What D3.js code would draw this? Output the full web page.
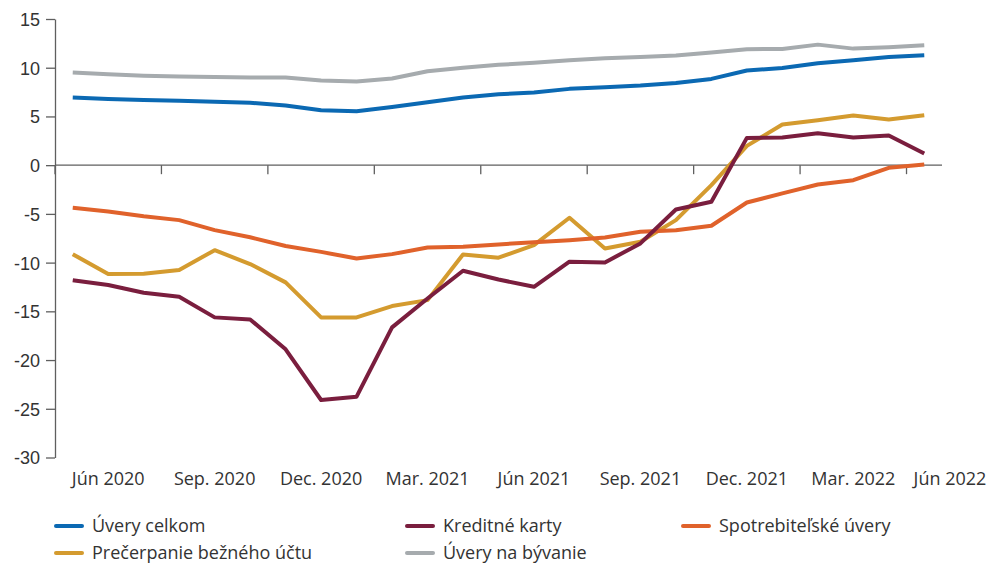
<!DOCTYPE html>
<html>
<head>
<meta charset="utf-8">
<script src="https://cdn.jsdelivr.net/npm/d3@7"></script>
<style>
  body { margin: 0; background: #fff; }
  svg { display: block; font-family: "Open Sans", sans-serif; }
  .axis text { fill: #333; font-size: 18px; }
  .axis path, .axis line { stroke: #5f5f5f; stroke-width: 1.3; }
</style>
</head>
<body>
<div id="chart"></div>
<script>
// months Jún 2020 .. Jún 2022
const months = ["Jún 2020","Júl 2020","Aug. 2020","Sep. 2020","Okt. 2020","Nov. 2020","Dec. 2020","Jan. 2021","Feb. 2021",
  "Mar. 2021","Apr. 2021","Máj 2021","Jún 2021","Júl 2021","Aug. 2021","Sep. 2021","Okt. 2021","Nov. 2021",
  "Dec. 2021","Jan. 2022","Feb. 2022","Mar. 2022","Apr. 2022","Máj 2022","Jún 2022"];

const uveryCelkom = [6.94, 6.8, 6.7, 6.6, 6.5, 6.4, 6.12, 5.64, 5.54, 5.98, 6.46, 6.94, 7.28, 7.45, 7.83, 8.0,
  8.17, 8.44, 8.85, 9.71, 9.98, 10.46, 10.77, 11.1, 11.28];
const kreditneKarty = [-11.8, -12.3, -13.1, -13.5, -15.62, -15.83, -18.9, -24.1, -23.76, -16.65, -13.68, -10.84,
  -11.73, -12.48, -9.91, -9.98, -8.03, -4.55, -3.76, 2.8, 2.85, 3.28, 2.84, 3.04, 1.2];
const spotrebitelske = [-4.38, -4.75, -5.25, -5.64, -6.67, -7.4, -8.3, -8.9, -9.57, -9.13, -8.44, -8.38, -8.14,
  -7.9, -7.7, -7.42, -6.84, -6.67, -6.22, -3.83, -2.9, -1.98, -1.54, -0.27, 0.07];
const precerpanie = [-9.13, -11.18, -11.15, -10.77, -8.72, -10.15, -12.03, -15.62, -15.62, -14.46, -13.85, -9.16,
  -9.5, -8.2, -5.4, -8.55, -7.86, -5.64, -2.05, 1.98, 4.17, 4.6, 5.1, 4.68, 5.13];
const uveryByvanie = [9.5, 9.32, 9.17, 9.1, 9.05, 9.0, 9.0, 8.69, 8.58, 8.9, 9.64, 10.0, 10.3, 10.5, 10.77, 10.97,
  11.1, 11.25, 11.55, 11.9, 11.93, 12.37, 11.96, 12.1, 12.3];

const yTicks = [-30, -25, -20, -15, -10, -5, 0, 5, 10, 15];

const series = [
  { name: "Úvery celkom", values: uveryCelkom, color: "#0b69b3" },
  { name: "Kreditné karty", values: kreditneKarty, color: "#7a1e3e" },
  { name: "Spotrebiteľské úvery", values: spotrebitelske, color: "#e0622b" },
  { name: "Prečerpanie bežného účtu", values: precerpanie, color: "#d49b2f" },
  { name: "Úvery na bývanie", values: uveryByvanie, color: "#a6abae" }
];
// draw order: gray/blue first, then the rest
const drawOrder = [4, 0, 3, 2, 1];

const width = 991, height = 563;

const x = d3.scaleBand().domain(months).range([55, 942]).padding(0);
const y = d3.scaleLinear().domain([-30, 15]).range([457.5, 19]);

const svg = d3.select("#chart").append("svg")
  .attr("width", width)
  .attr("height", height);

// y axis
const yAxis = svg.append("g")
  .attr("class", "axis")
  .attr("transform", "translate(55,0)")
  .call(d3.axisLeft(y).tickValues(yTicks).tickFormat(d => String(d))
    .tickSize(9).tickSizeOuter(0).tickPadding(6));
yAxis.selectAll("text").attr("dy", "0.36em");

// x axis along zero line, ticks every 3 months at band boundaries
const step = x.step();
const boundaries = d3.range(0, months.length, 3);
const xg = svg.append("g").attr("class", "axis");
xg.append("line")
  .attr("x1", x.range()[0]).attr("x2", x.range()[1])
  .attr("y1", y(0)).attr("y2", y(0));
xg.selectAll(".tick").data(boundaries).enter().append("line")
  .attr("x1", i => x(months[i])).attr("x2", i => x(months[i]))
  .attr("y1", y(0)).attr("y2", y(0) + 9);

// category labels below plot
xg.selectAll(".lab").data(boundaries).enter().append("text")
  .attr("class", "lab")
  .attr("x", i => Math.min(x(months[i]) + step * 1.5, width - 41))
  .attr("y", 485)
  .attr("text-anchor", "middle")
  .text(i => months[i]);

// lines
const line = d3.line()
  .x((d, i) => x(months[i]) + x.bandwidth() / 2)
  .y(d => y(d));

svg.append("g").selectAll("path")
  .data(drawOrder.map(i => series[i]))
  .enter().append("path")
  .attr("d", d => line(d.values))
  .attr("fill", "none")
  .attr("stroke", d => d.color)
  .attr("stroke-width", 4)
  .attr("stroke-linejoin", "round");

// legend
const legendPos = [[56, 526], [407, 526], [683, 526], [56, 553], [407, 553]];
const legend = svg.append("g").selectAll("g")
  .data(series)
  .enter().append("g")
  .attr("transform", (d, i) => `translate(${legendPos[i][0]},${legendPos[i][1]})`);
legend.append("line")
  .attr("x1", 0).attr("x2", 26)
  .attr("stroke", d => d.color)
  .attr("stroke-width", 4)
  .attr("stroke-linecap", "round");
legend.append("text")
  .attr("x", 36)
  .attr("dy", "0.36em")
  .attr("fill", "#333")
  .style("font-size", "18px")
  .text(d => d.name);
</script>
</body>
</html>
